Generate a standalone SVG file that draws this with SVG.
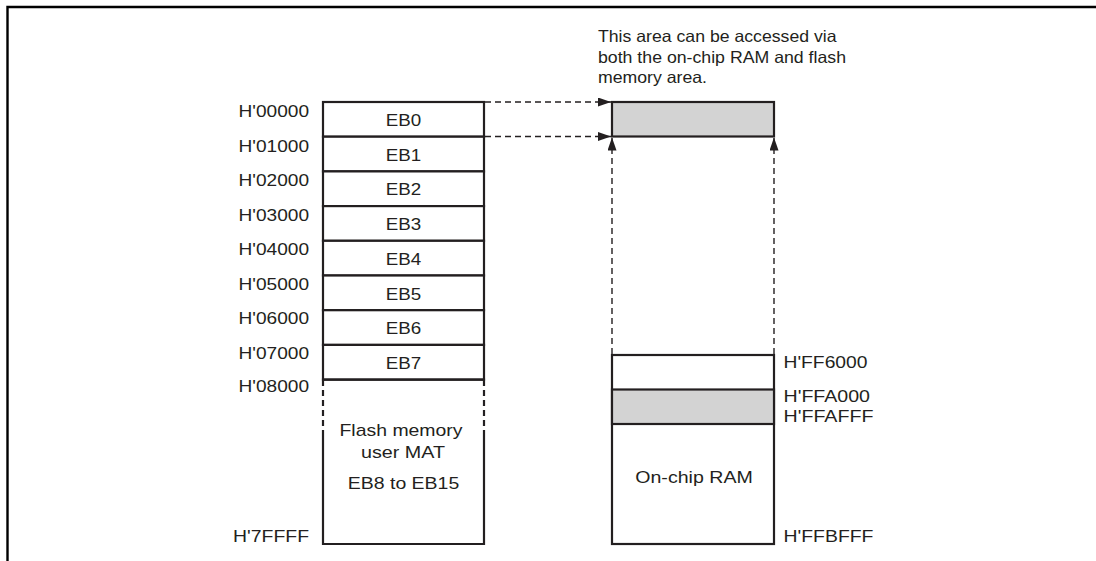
<svg xmlns="http://www.w3.org/2000/svg" width="1096" height="561" viewBox="0 0 1096 561">
<style>
text{font-family:"Liberation Sans",Arial,sans-serif;font-size:17px;fill:#231f20}
.note{font-size:16.5px}
.r{text-anchor:end}
.m{text-anchor:middle}
.box{fill:#fff;stroke:#231f20;stroke-width:2.2}
.gray{fill:#d3d3d3;stroke:#231f20;stroke-width:2.2}
.line{stroke:#231f20;stroke-width:2.2;fill:none}
.dash{stroke:#231f20;stroke-width:1.4;fill:none;stroke-dasharray:6 4}
.bdash{stroke:#231f20;stroke-width:2.2;fill:none;stroke-dasharray:6 4}
</style>
<defs>
<marker id="ah" viewBox="0 0 13 9" refX="13" refY="4.5" markerWidth="13" markerHeight="9" markerUnits="userSpaceOnUse" orient="auto">
<path d="M0,0 L13,4.5 L0,9 z" fill="#231f20"/>
</marker>
</defs>
<path d="M7.5,561 V7 H1096" fill="none" stroke="#000" stroke-width="2.4"/>
<g id="note">
<text class="note" x="598" y="42" textLength="238.5" lengthAdjust="spacingAndGlyphs">This area can be accessed via</text>
<text class="note" x="598" y="62.5" textLength="248" lengthAdjust="spacingAndGlyphs">both the on-chip RAM and flash</text>
<text class="note" x="598" y="82.5" textLength="109" lengthAdjust="spacingAndGlyphs">memory area.</text>
</g>
<g id="flash">
<g id="eb0"><rect class="box" x="323" y="102" width="161" height="34.7"/><text class="m" x="403.5" y="126" textLength="35.5" lengthAdjust="spacingAndGlyphs">EB0</text></g>
<g id="eb1"><rect class="box" x="323" y="136.7" width="161" height="34.7"/><text class="m" x="403.5" y="160.7" textLength="35.5" lengthAdjust="spacingAndGlyphs">EB1</text></g>
<g id="eb2"><rect class="box" x="323" y="171.4" width="161" height="34.7"/><text class="m" x="403.5" y="195.4" textLength="35.5" lengthAdjust="spacingAndGlyphs">EB2</text></g>
<g id="eb3"><rect class="box" x="323" y="206.1" width="161" height="34.7"/><text class="m" x="403.5" y="230.1" textLength="35.5" lengthAdjust="spacingAndGlyphs">EB3</text></g>
<g id="eb4"><rect class="box" x="323" y="240.8" width="161" height="34.7"/><text class="m" x="403.5" y="264.8" textLength="35.5" lengthAdjust="spacingAndGlyphs">EB4</text></g>
<g id="eb5"><rect class="box" x="323" y="275.5" width="161" height="34.7"/><text class="m" x="403.5" y="299.5" textLength="35.5" lengthAdjust="spacingAndGlyphs">EB5</text></g>
<g id="eb6"><rect class="box" x="323" y="310.2" width="161" height="34.7"/><text class="m" x="403.5" y="334.2" textLength="35.5" lengthAdjust="spacingAndGlyphs">EB6</text></g>
<g id="eb7"><rect class="box" x="323" y="344.9" width="161" height="34.7"/><text class="m" x="403.5" y="368.9" textLength="35.5" lengthAdjust="spacingAndGlyphs">EB7</text></g>
<g id="usermat">
<path class="line" d="M323,386 V379.6 H484 V386"/>
<path class="bdash" d="M323,390 V430 M484,390 V430"/>
<path class="line" d="M323,430 V544 H484 V430"/>
<text class="m" x="401" y="436" textLength="123" lengthAdjust="spacingAndGlyphs">Flash memory</text>
<text class="m" x="403" y="458" textLength="84" lengthAdjust="spacingAndGlyphs">user MAT</text>
<text class="m" x="403.5" y="489" textLength="111.5" lengthAdjust="spacingAndGlyphs">EB8 to EB15</text>
</g>
</g>
<g id="flash-addr">
<text class="r" x="309" y="117" textLength="70.5" lengthAdjust="spacingAndGlyphs">H'00000</text>
<text class="r" x="309" y="151.5" textLength="70.5" lengthAdjust="spacingAndGlyphs">H'01000</text>
<text class="r" x="309" y="186" textLength="70.5" lengthAdjust="spacingAndGlyphs">H'02000</text>
<text class="r" x="309" y="220.5" textLength="70.5" lengthAdjust="spacingAndGlyphs">H'03000</text>
<text class="r" x="309" y="255" textLength="70.5" lengthAdjust="spacingAndGlyphs">H'04000</text>
<text class="r" x="309" y="289.5" textLength="70.5" lengthAdjust="spacingAndGlyphs">H'05000</text>
<text class="r" x="309" y="324" textLength="70.5" lengthAdjust="spacingAndGlyphs">H'06000</text>
<text class="r" x="309" y="358.5" textLength="70.5" lengthAdjust="spacingAndGlyphs">H'07000</text>
<text class="r" x="309" y="392" textLength="70.5" lengthAdjust="spacingAndGlyphs">H'08000</text>
<text class="r" x="309" y="542" textLength="76" lengthAdjust="spacingAndGlyphs">H'7FFFF</text>
</g>
<g id="shared">
<rect class="gray" x="612" y="102" width="162" height="34.5"/>
</g>
<g id="ram">
<rect class="box" x="612" y="355" width="162" height="189"/>
<rect class="gray" x="612" y="389.5" width="162" height="34.5"/>
<text class="m" x="694" y="483" textLength="117.5" lengthAdjust="spacingAndGlyphs">On-chip RAM</text>
<text x="783.5" y="368" textLength="84" lengthAdjust="spacingAndGlyphs">H'FF6000</text>
<text x="783.5" y="402" textLength="86.5" lengthAdjust="spacingAndGlyphs">H'FFA000</text>
<text x="783.5" y="422" textLength="90" lengthAdjust="spacingAndGlyphs">H'FFAFFF</text>
<text x="783.5" y="542" textLength="90" lengthAdjust="spacingAndGlyphs">H'FFBFFF</text>
</g>
<g id="connectors">
<path class="dash" d="M485,102 H611" marker-end="url(#ah)"/>
<path class="dash" d="M485,136.5 H611" marker-end="url(#ah)"/>
<path class="dash" d="M612,354 V137.5" marker-end="url(#ah)"/>
<path class="dash" d="M774,354 V137.5" marker-end="url(#ah)"/>
</g>
</svg>
